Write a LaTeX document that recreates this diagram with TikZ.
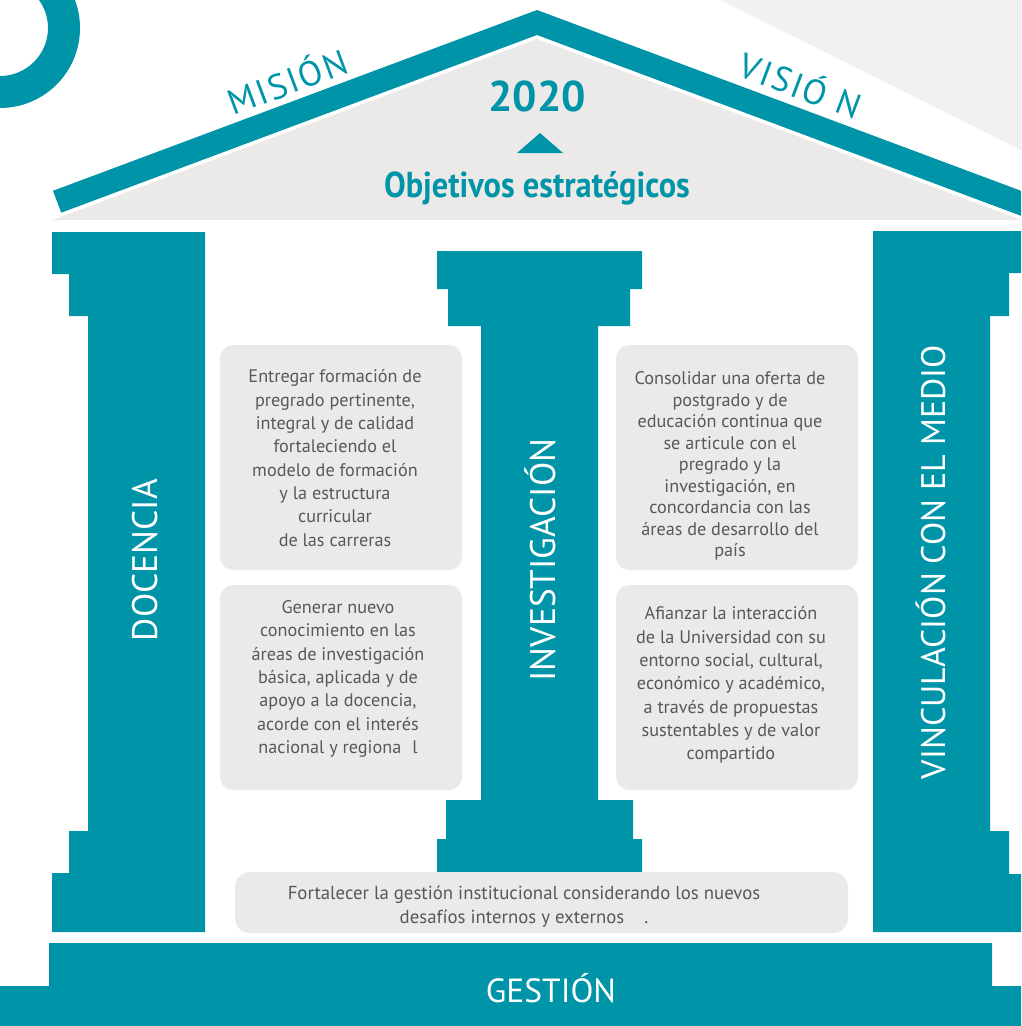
\documentclass[tikz,border=0pt]{standalone}
\usepackage{fontspec}
\setmainfont{PT Sans}
\newfontfamily\condb{PT Sans}[FakeStretch=0.9]
\newfontfamily\spaced{PT Sans}[LetterSpace=6]
\definecolor{teal}{HTML}{0094A8}
\definecolor{boxgray}{HTML}{ECEAE9}
\definecolor{roofgray}{HTML}{ECEAE8}
\definecolor{bggray}{HTML}{F0F0F0}
\definecolor{txt}{HTML}{58585A}
\begin{document}
\begin{tikzpicture}[x=1pt,y=-1pt,
  box/.style={fill=boxgray, rounded corners=13pt, inner sep=0pt},
  body/.style={align=center, text=txt, font=\fontsize{18.2}{23.3}\selectfont, inner sep=0pt},
  pillar/.style={text=white, font=\fontsize{35.5}{40}\selectfont, rotate=90, inner sep=0pt},
  roofword/.style={text=teal, font=\fontsize{35}{40}\selectfont\spaced, inner sep=0pt, anchor=base}]
\useasboundingbox (0,0) rectangle (1021,1026);
\clip (0,0) rectangle (1021,1026);
% background light gray corner
\fill[bggray] (720,0) -- (1021,0) -- (1021,150) -- cycle;
% ring
\fill[teal, even odd rule] (0,28) circle[radius=80pt] (0,28) circle[radius=48pt];
% roof gray
\fill[roofgray] (52.4,220) -- (537,39) -- (1021.6,220) -- cycle;
% roof band
\fill[teal] (53,190.8) -- (537,10) -- (1021,190.8) -- (1021,215.8) -- (537,35) -- (61.2,212.7) -- cycle;
% columns
\fill[teal] (52,232) -- (205,232) -- (205,932) -- (52,932) -- (52,873) -- (69,873) -- (69,831) -- (88,831) -- (88,316) -- (69,316) -- (69,274) -- (52,274) -- cycle;
\fill[teal] (437,251) -- (642,251) -- (642,289) -- (630,289) -- (630,326) -- (598,326) -- (598,800) -- (633,800) -- (633,839) -- (642,839) -- (642,872) -- (437,872) -- (437,839) -- (446,839) -- (446,800) -- (481,800) -- (481,326) -- (448,326) -- (448,289) -- (437,289) -- cycle;
\fill[teal] (873,231) -- (1021,231) -- (1021,273) -- (1009,273) -- (1009,316) -- (990,316) -- (990,831) -- (1009,831) -- (1009,874) -- (1021,874) -- (1021,932) -- (873,932) -- cycle;
% base
\fill[teal] (49,943) -- (992,943) -- (992,986) -- (1021,986) -- (1021,1026) -- (0,1026) -- (0,986) -- (49,986) -- cycle;
% roof texts
\node[roofword, rotate=20.5] (mision) at (292,94) {MISIÓN};
\node[roofword, rotate=-20.5] (vision) at (796,98) {VISIÓ N};
\node[text=teal, font=\fontsize{43}{46}\selectfont\bfseries, anchor=base, inner sep=0pt] (year) at (537,111) {2020};
\fill[teal] (517,153) -- (540,133) -- (563,153) -- cycle;
\node[text=teal, font=\fontsize{36}{40}\selectfont\condb\bfseries, anchor=base, inner sep=0pt] (obj) at (537,197) {Objetivos estratégicos};
% pillar labels
\node[pillar] (doc) at (145,560) {DOCENCIA};
\node[pillar] (inv) at (540,560) {INVESTIGACIÓN};
\node[pillar, font=\fontsize{34}{40}\selectfont] (vin) at (931,562) {VINCULACIÓN CON EL MEDIO};
\node[text=white, font=\fontsize{33.5}{38}\selectfont, anchor=base, inner sep=0pt] (ges) at (551,1002) {GESTIÓN};
% boxes
\node[box, minimum width=242pt, minimum height=225pt] (b1) at (341,457.5) {};
\node[box, minimum width=242pt, minimum height=205pt] (b2) at (341,687.5) {};
\node[box, minimum width=242pt, minimum height=225pt] (b3) at (737,457.5) {};
\node[box, minimum width=242pt, minimum height=205pt] (b4) at (737,687.5) {};
\node[box, minimum width=613pt, minimum height=61pt, rounded corners=15pt] (b5) at (541.5,902.5) {};
\node[body] (t1) at (335,458) {Entregar formación de\\pregrado pertinente,\\integral y de calidad\\fortaleciendo el\\modelo de formación\\y la estructura\\curricular\\de las carreras};
\node[body] (t2) at (338,679) {Generar nuevo\\conocimiento en las\\áreas de investigación\\básica, aplicada y de\\apoyo a la docencia,\\acorde con el interés\\nacional y regiona\hspace{11pt}l};
\node[body, font=\fontsize{18.2}{21.5}\selectfont] (t3) at (730,466) {Consolidar una oferta de\\postgrado y de\\educación continua que\\se articule con el\\pregrado y la\\investigación, en\\concordancia con las\\áreas de desarrollo del\\país};
\node[body] (t4) at (731,685) {Afianzar la interacción\\de la Universidad con su\\entorno social, cultural,\\económico y académico,\\a través de propuestas\\sustentables y de valor\\compartido};
\node[body, font=\fontsize{18.8}{24}\selectfont] (t5) at (524,907) {Fortalecer la gestión institucional considerando los nuevos\\desafíos internos y externos\hspace{20pt}.};
\end{tikzpicture}
\end{document}
